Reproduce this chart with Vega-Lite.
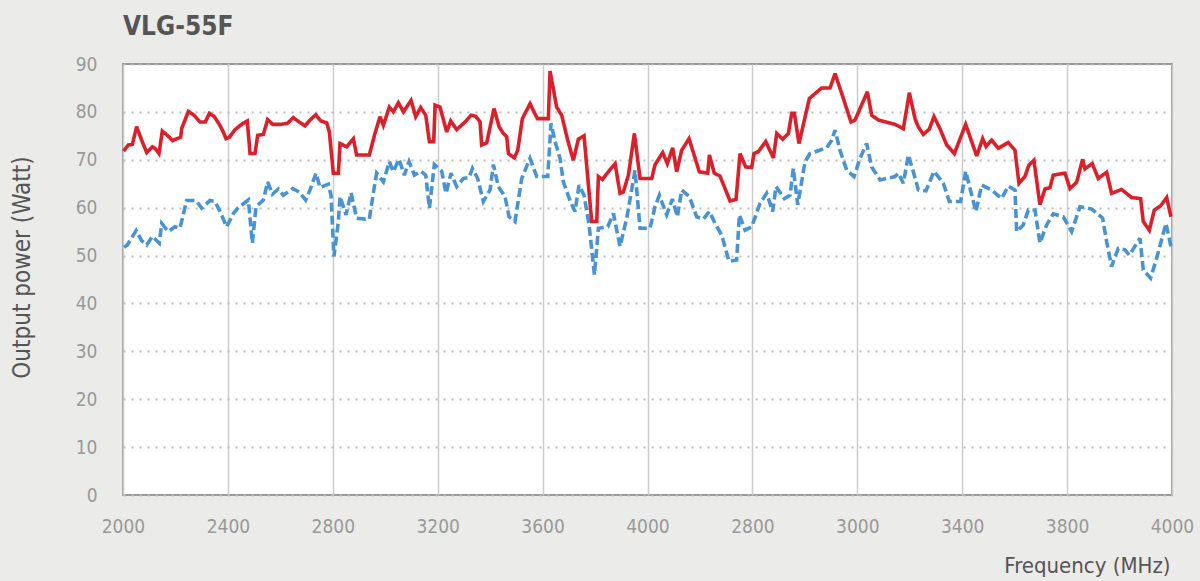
{
  "$schema": "https://vega.github.io/schema/vega-lite/v6.json",
  "width": 1049,
  "height": 431,
  "autosize": {"type": "none"},
  "padding": {"left": 123, "top": 64, "right": 28, "bottom": 86},
  "background": "#ebebe9",
  "title": {"text": "VLG-55F", "anchor": "start", "frame": "group", "font": "Liberation Sans Narrow, DejaVu Sans Condensed, sans-serif", "fontSize": 26, "fontWeight": "bold", "color": "#555555", "offset": 15},
  "config": {
    "view": {"fill": "white", "stroke": "#9a9a9a", "strokeWidth": 2},
    "axis": {"labelFont": "Liberation Sans Narrow, DejaVu Sans Condensed, sans-serif", "titleFont": "Liberation Sans Narrow, DejaVu Sans Condensed, sans-serif", "labelColor": "#999999", "titleColor": "#555555", "labelFontSize": 19, "titleFontSize": 24, "titleFontWeight": "normal", "domain": false, "ticks": false, "tickSize": 0}
  },
  "data": {"values": [
    {"s":"B","x":0.1,"w":51.7},{"s":"B","x":0.41,"w":52.2},{"s":"B","x":1.25,"w":55.2},{"s":"B","x":1.78,"w":53.1},{"s":"B","x":2.26,"w":52.2},{"s":"B","x":2.8,"w":54.0},{"s":"B","x":3.46,"w":52.6},{"s":"B","x":3.69,"w":56.7},{"s":"B","x":4.32,"w":55.0},{"s":"B","x":4.96,"w":56.0},{"s":"B","x":5.43,"w":55.7},{"s":"B","x":6.07,"w":61.5},{"s":"B","x":6.96,"w":61.5},{"s":"B","x":7.5,"w":59.9},{"s":"B","x":8.29,"w":61.5},{"s":"B","x":8.77,"w":61.3},{"s":"B","x":9.25,"w":59.2},{"s":"B","x":9.88,"w":56.0},{"s":"B","x":10.52,"w":58.8},{"s":"B","x":10.99,"w":60.0},{"s":"B","x":11.95,"w":61.6},{"s":"B","x":12.33,"w":52.6},{"s":"B","x":12.68,"w":60.2},{"s":"B","x":13.38,"w":61.6},{"s":"B","x":13.79,"w":65.4},{"s":"B","x":14.24,"w":62.8},{"s":"B","x":14.81,"w":63.9},{"s":"B","x":15.28,"w":62.6},{"s":"B","x":16.17,"w":64.0},{"s":"B","x":16.78,"w":63.3},{"s":"B","x":17.41,"w":61.6},{"s":"B","x":17.83,"w":63.7},{"s":"B","x":18.4,"w":67.2},{"s":"B","x":18.78,"w":64.2},{"s":"B","x":19.57,"w":64.9},{"s":"B","x":19.83,"w":62.6},{"s":"B","x":20.11,"w":49.8},{"s":"B","x":20.53,"w":57.1},{"s":"B","x":20.69,"w":62.3},{"s":"B","x":21.26,"w":58.5},{"s":"B","x":21.74,"w":63.1},{"s":"B","x":22.27,"w":57.8},{"s":"B","x":23.07,"w":57.6},{"s":"B","x":23.48,"w":57.6},{"s":"B","x":23.86,"w":63.0},{"s":"B","x":24.18,"w":67.2},{"s":"B","x":24.82,"w":65.4},{"s":"B","x":25.39,"w":69.6},{"s":"B","x":25.77,"w":67.5},{"s":"B","x":26.31,"w":70.1},{"s":"B","x":26.82,"w":66.8},{"s":"B","x":27.27,"w":69.6},{"s":"B","x":27.78,"w":66.8},{"s":"B","x":28.41,"w":67.6},{"s":"B","x":28.86,"w":66.8},{"s":"B","x":29.21,"w":59.9},{"s":"B","x":29.68,"w":69.0},{"s":"B","x":30.38,"w":67.6},{"s":"B","x":30.79,"w":63.0},{"s":"B","x":31.27,"w":67.2},{"s":"B","x":31.81,"w":64.4},{"s":"B","x":32.45,"w":66.1},{"s":"B","x":32.99,"w":66.3},{"s":"B","x":33.31,"w":68.2},{"s":"B","x":33.81,"w":66.1},{"s":"B","x":34.35,"w":61.3},{"s":"B","x":34.99,"w":63.7},{"s":"B","x":35.31,"w":69.0},{"s":"B","x":35.78,"w":64.4},{"s":"B","x":36.42,"w":62.3},{"s":"B","x":36.8,"w":58.1},{"s":"B","x":37.37,"w":57.1},{"s":"B","x":38.01,"w":66.1},{"s":"B","x":38.8,"w":70.3},{"s":"B","x":39.44,"w":66.5},{"s":"B","x":40.49,"w":66.5},{"s":"B","x":40.8,"w":77.6},{"s":"B","x":41.19,"w":73.8},{"s":"B","x":41.66,"w":70.3},{"s":"B","x":41.98,"w":65.4},{"s":"B","x":42.62,"w":61.4},{"s":"B","x":43.09,"w":59.2},{"s":"B","x":43.47,"w":64.7},{"s":"B","x":43.95,"w":62.6},{"s":"B","x":44.43,"w":56.4},{"s":"B","x":44.94,"w":46.0},{"s":"B","x":45.32,"w":55.7},{"s":"B","x":46.21,"w":56.0},{"s":"B","x":46.75,"w":58.8},{"s":"B","x":47.38,"w":51.9},{"s":"B","x":48.02,"w":57.8},{"s":"B","x":48.49,"w":63.7},{"s":"B","x":48.81,"w":67.8},{"s":"B","x":49.29,"w":55.7},{"s":"B","x":50.24,"w":55.7},{"s":"B","x":50.72,"w":60.2},{"s":"B","x":51.13,"w":62.6},{"s":"B","x":51.83,"w":58.5},{"s":"B","x":52.37,"w":61.8},{"s":"B","x":52.85,"w":58.1},{"s":"B","x":53.26,"w":63.7},{"s":"B","x":53.99,"w":62.3},{"s":"B","x":54.69,"w":58.1},{"s":"B","x":55.32,"w":57.6},{"s":"B","x":55.9,"w":59.2},{"s":"B","x":56.44,"w":56.7},{"s":"B","x":57.07,"w":54.3},{"s":"B","x":57.77,"w":48.8},{"s":"B","x":58.5,"w":49.1},{"s":"B","x":58.76,"w":58.5},{"s":"B","x":59.3,"w":55.3},{"s":"B","x":59.93,"w":56.0},{"s":"B","x":60.73,"w":60.9},{"s":"B","x":61.36,"w":63.0},{"s":"B","x":61.93,"w":59.2},{"s":"B","x":62.25,"w":64.4},{"s":"B","x":63.05,"w":61.9},{"s":"B","x":63.59,"w":62.6},{"s":"B","x":63.9,"w":68.2},{"s":"B","x":64.32,"w":60.6},{"s":"B","x":65.02,"w":69.6},{"s":"B","x":65.49,"w":71.3},{"s":"B","x":67.08,"w":72.5},{"s":"B","x":67.56,"w":74.1},{"s":"B","x":67.88,"w":76.2},{"s":"B","x":68.35,"w":72.0},{"s":"B","x":68.99,"w":67.8},{"s":"B","x":69.69,"w":66.5},{"s":"B","x":70.26,"w":70.3},{"s":"B","x":70.89,"w":73.4},{"s":"B","x":71.37,"w":68.5},{"s":"B","x":72.17,"w":65.8},{"s":"B","x":73.6,"w":66.5},{"s":"B","x":73.91,"w":67.2},{"s":"B","x":74.39,"w":65.1},{"s":"B","x":74.87,"w":71.0},{"s":"B","x":75.34,"w":67.5},{"s":"B","x":75.82,"w":63.7},{"s":"B","x":76.55,"w":63.5},{"s":"B","x":77.31,"w":67.6},{"s":"B","x":78.2,"w":65.1},{"s":"B","x":78.77,"w":61.3},{"s":"B","x":79.85,"w":61.3},{"s":"B","x":80.33,"w":67.6},{"s":"B","x":81.31,"w":59.2},{"s":"B","x":81.85,"w":64.7},{"s":"B","x":82.81,"w":63.7},{"s":"B","x":83.76,"w":61.9},{"s":"B","x":84.39,"w":64.5},{"s":"B","x":85.03,"w":63.7},{"s":"B","x":85.19,"w":55.0},{"s":"B","x":85.82,"w":56.4},{"s":"B","x":86.3,"w":59.5},{"s":"B","x":86.94,"w":59.5},{"s":"B","x":87.41,"w":52.6},{"s":"B","x":88.05,"w":56.4},{"s":"B","x":88.68,"w":58.7},{"s":"B","x":89.64,"w":58.1},{"s":"B","x":90.43,"w":55.0},{"s":"B","x":91.23,"w":60.2},{"s":"B","x":92.34,"w":59.7},{"s":"B","x":93.39,"w":57.8},{"s":"B","x":93.77,"w":52.9},{"s":"B","x":94.24,"w":47.7},{"s":"B","x":94.88,"w":51.5},{"s":"B","x":95.51,"w":51.2},{"s":"B","x":95.93,"w":50.1},{"s":"B","x":96.95,"w":53.6},{"s":"B","x":97.26,"w":47.0},{"s":"B","x":97.96,"w":45.3},{"s":"B","x":98.53,"w":49.4},{"s":"B","x":99.42,"w":56.7},{"s":"B","x":99.9,"w":51.9},
    {"s":"R","x":0.05,"w":71.8},{"s":"R","x":0.51,"w":73.1},{"s":"R","x":0.89,"w":73.2},{"s":"R","x":1.3,"w":76.9},{"s":"R","x":1.78,"w":74.1},{"s":"R","x":2.26,"w":71.5},{"s":"R","x":2.8,"w":72.7},{"s":"R","x":3.05,"w":72.4},{"s":"R","x":3.43,"w":71.3},{"s":"R","x":3.75,"w":76.0},{"s":"R","x":4.23,"w":75.1},{"s":"R","x":4.73,"w":74.0},{"s":"R","x":5.12,"w":74.4},{"s":"R","x":5.5,"w":74.7},{"s":"R","x":5.59,"w":76.5},{"s":"R","x":6.23,"w":80.1},{"s":"R","x":6.77,"w":79.3},{"s":"R","x":7.34,"w":77.9},{"s":"R","x":7.85,"w":77.9},{"s":"R","x":8.23,"w":79.7},{"s":"R","x":8.71,"w":79.0},{"s":"R","x":9.18,"w":77.4},{"s":"R","x":9.56,"w":75.8},{"s":"R","x":9.82,"w":74.4},{"s":"R","x":10.14,"w":74.7},{"s":"R","x":10.68,"w":76.3},{"s":"R","x":11.31,"w":77.4},{"s":"R","x":11.85,"w":78.1},{"s":"R","x":12.11,"w":71.3},{"s":"R","x":12.58,"w":71.3},{"s":"R","x":12.84,"w":75.1},{"s":"R","x":13.38,"w":75.3},{"s":"R","x":13.79,"w":78.4},{"s":"R","x":14.27,"w":77.4},{"s":"R","x":14.97,"w":77.4},{"s":"R","x":15.67,"w":77.6},{"s":"R","x":16.24,"w":78.8},{"s":"R","x":16.78,"w":77.9},{"s":"R","x":17.35,"w":77.1},{"s":"R","x":17.83,"w":78.3},{"s":"R","x":18.37,"w":79.4},{"s":"R","x":18.87,"w":78.1},{"s":"R","x":19.42,"w":77.7},{"s":"R","x":19.67,"w":75.8},{"s":"R","x":20.05,"w":67.2},{"s":"R","x":20.53,"w":67.2},{"s":"R","x":20.69,"w":73.4},{"s":"R","x":21.32,"w":72.7},{"s":"R","x":21.96,"w":74.4},{"s":"R","x":22.27,"w":71.0},{"s":"R","x":22.91,"w":71.0},{"s":"R","x":23.48,"w":71.0},{"s":"R","x":24.02,"w":75.5},{"s":"R","x":24.5,"w":79.0},{"s":"R","x":24.82,"w":77.2},{"s":"R","x":25.39,"w":81.0},{"s":"R","x":25.77,"w":80.0},{"s":"R","x":26.25,"w":81.9},{"s":"R","x":26.73,"w":80.0},{"s":"R","x":27.46,"w":82.4},{"s":"R","x":27.9,"w":79.0},{"s":"R","x":28.38,"w":80.9},{"s":"R","x":28.86,"w":79.3},{"s":"R","x":29.21,"w":73.8},{"s":"R","x":29.62,"w":73.8},{"s":"R","x":29.75,"w":81.4},{"s":"R","x":30.22,"w":81.0},{"s":"R","x":30.86,"w":75.8},{"s":"R","x":31.24,"w":78.1},{"s":"R","x":31.81,"w":76.3},{"s":"R","x":32.61,"w":77.9},{"s":"R","x":33.18,"w":79.3},{"s":"R","x":33.62,"w":79.1},{"s":"R","x":34.04,"w":77.9},{"s":"R","x":34.19,"w":73.1},{"s":"R","x":34.67,"w":73.5},{"s":"R","x":35.37,"w":80.7},{"s":"R","x":35.85,"w":76.9},{"s":"R","x":36.26,"w":75.5},{"s":"R","x":36.58,"w":74.8},{"s":"R","x":36.74,"w":71.3},{"s":"R","x":37.31,"w":70.4},{"s":"R","x":37.63,"w":72.0},{"s":"R","x":38.07,"w":78.6},{"s":"R","x":38.8,"w":81.7},{"s":"R","x":39.5,"w":78.6},{"s":"R","x":40.17,"w":78.6},{"s":"R","x":40.55,"w":78.6},{"s":"R","x":40.71,"w":88.5},{"s":"R","x":41.34,"w":81.0},{"s":"R","x":41.82,"w":79.3},{"s":"R","x":42.39,"w":74.1},{"s":"R","x":42.93,"w":69.9},{"s":"R","x":43.41,"w":74.3},{"s":"R","x":43.95,"w":75.0},{"s":"R","x":44.68,"w":57.1},{"s":"R","x":45.16,"w":57.1},{"s":"R","x":45.32,"w":66.5},{"s":"R","x":45.7,"w":65.9},{"s":"R","x":46.27,"w":67.5},{"s":"R","x":46.91,"w":69.2},{"s":"R","x":47.38,"w":63.0},{"s":"R","x":47.7,"w":63.3},{"s":"R","x":48.18,"w":66.8},{"s":"R","x":48.75,"w":75.5},{"s":"R","x":49.29,"w":66.1},{"s":"R","x":49.92,"w":66.1},{"s":"R","x":50.4,"w":66.1},{"s":"R","x":50.72,"w":69.0},{"s":"R","x":51.45,"w":71.5},{"s":"R","x":51.89,"w":69.2},{"s":"R","x":52.4,"w":72.5},{"s":"R","x":52.78,"w":67.5},{"s":"R","x":53.26,"w":72.0},{"s":"R","x":53.96,"w":74.4},{"s":"R","x":54.94,"w":67.5},{"s":"R","x":55.74,"w":67.2},{"s":"R","x":55.9,"w":71.0},{"s":"R","x":56.37,"w":67.2},{"s":"R","x":56.91,"w":66.6},{"s":"R","x":57.87,"w":61.4},{"s":"R","x":58.44,"w":61.7},{"s":"R","x":58.82,"w":71.3},{"s":"R","x":59.36,"w":68.5},{"s":"R","x":59.93,"w":68.4},{"s":"R","x":60.15,"w":71.3},{"s":"R","x":60.57,"w":71.7},{"s":"R","x":61.27,"w":73.8},{"s":"R","x":62.0,"w":70.4},{"s":"R","x":62.32,"w":75.5},{"s":"R","x":62.89,"w":74.3},{"s":"R","x":63.43,"w":75.5},{"s":"R","x":63.75,"w":79.7},{"s":"R","x":64.0,"w":79.7},{"s":"R","x":64.44,"w":73.4},{"s":"R","x":65.43,"w":82.8},{"s":"R","x":66.6,"w":85.0},{"s":"R","x":67.4,"w":85.0},{"s":"R","x":67.88,"w":88.0},{"s":"R","x":68.67,"w":82.8},{"s":"R","x":69.4,"w":77.9},{"s":"R","x":69.78,"w":78.3},{"s":"R","x":70.96,"w":84.2},{"s":"R","x":71.37,"w":79.3},{"s":"R","x":72.01,"w":78.3},{"s":"R","x":73.6,"w":77.4},{"s":"R","x":74.39,"w":76.5},{"s":"R","x":74.96,"w":84.0},{"s":"R","x":75.5,"w":78.6},{"s":"R","x":75.81,"w":76.9},{"s":"R","x":76.29,"w":75.3},{"s":"R","x":76.86,"w":76.4},{"s":"R","x":77.31,"w":79.0},{"s":"R","x":77.88,"w":76.5},{"s":"R","x":78.52,"w":73.1},{"s":"R","x":79.25,"w":71.3},{"s":"R","x":80.33,"w":77.4},{"s":"R","x":81.38,"w":70.8},{"s":"R","x":81.95,"w":74.4},{"s":"R","x":82.27,"w":72.8},{"s":"R","x":82.81,"w":74.1},{"s":"R","x":83.44,"w":72.4},{"s":"R","x":84.39,"w":73.6},{"s":"R","x":85.03,"w":72.0},{"s":"R","x":85.41,"w":65.1},{"s":"R","x":85.98,"w":66.5},{"s":"R","x":86.36,"w":68.9},{"s":"R","x":86.84,"w":69.9},{"s":"R","x":87.41,"w":60.6},{"s":"R","x":87.89,"w":63.9},{"s":"R","x":88.37,"w":64.2},{"s":"R","x":88.68,"w":66.8},{"s":"R","x":89.8,"w":67.2},{"s":"R","x":90.27,"w":64.0},{"s":"R","x":90.91,"w":65.3},{"s":"R","x":91.48,"w":70.1},{"s":"R","x":91.7,"w":68.1},{"s":"R","x":92.4,"w":69.2},{"s":"R","x":92.97,"w":66.1},{"s":"R","x":93.77,"w":67.4},{"s":"R","x":94.24,"w":63.0},{"s":"R","x":95.2,"w":63.8},{"s":"R","x":96.15,"w":62.1},{"s":"R","x":97.01,"w":61.9},{"s":"R","x":97.26,"w":57.1},{"s":"R","x":97.84,"w":55.3},{"s":"R","x":98.31,"w":59.5},{"s":"R","x":98.92,"w":60.4},{"s":"R","x":99.49,"w":62.1},{"s":"R","x":99.9,"w":58.1}
  ]},
  "mark": {"type": "line", "strokeWidth": 3.6, "strokeCap": "butt", "strokeJoin": "miter", "strokeMiterLimit": 3},
  "encoding": {
    "x": {
      "field": "x", "type": "quantitative",
      "scale": {"domain": [0, 100], "nice": false, "zero": false},
      "axis": {
        "title": "Frequency (MHz)",
        "values": [0, 10, 20, 30, 40, 50, 60, 70, 80, 90, 100],
        "labelExpr": "['2000','2400','2800','3200','3600','4000','2800','3000','3400','3800','4000'][round(datum.value/10)]",
        "labelPadding": 22,
        "labelFlush": false,
        "gridColor": "#cccccc", "gridWidth": 1.5,
        "titleFontSize": 22,
        "titleAnchor": "end", "titleAlign": "right", "titleX": 1047, "titleY": 77, "titleBaseline": "alphabetic"
      }
    },
    "y": {
      "field": "w", "type": "quantitative",
      "scale": {"domain": [0, 90], "nice": false},
      "axis": {
        "title": "Output power (Watt)",
        "values": [0, 10, 20, 30, 40, 50, 60, 70, 80, 90],
        "labelPadding": 26,
        "labelFlush": false,
        "gridColor": "#bdbdbd", "gridWidth": 2, "gridDash": [2, 6],
        "titleX": -89, "titleY": 203, "titleBaseline": "bottom", "titleAlign": "center", "titleAngle": -90
      }
    },
    "color": {"field": "s", "type": "nominal", "scale": {"domain": ["B", "R"], "range": ["#4a93d1", "#d9202b"]}, "legend": null},
    "strokeDash": {"field": "s", "type": "nominal", "scale": {"domain": ["B", "R"], "range": [[9, 4], [1, 0]]}, "legend": null}
  }
}
